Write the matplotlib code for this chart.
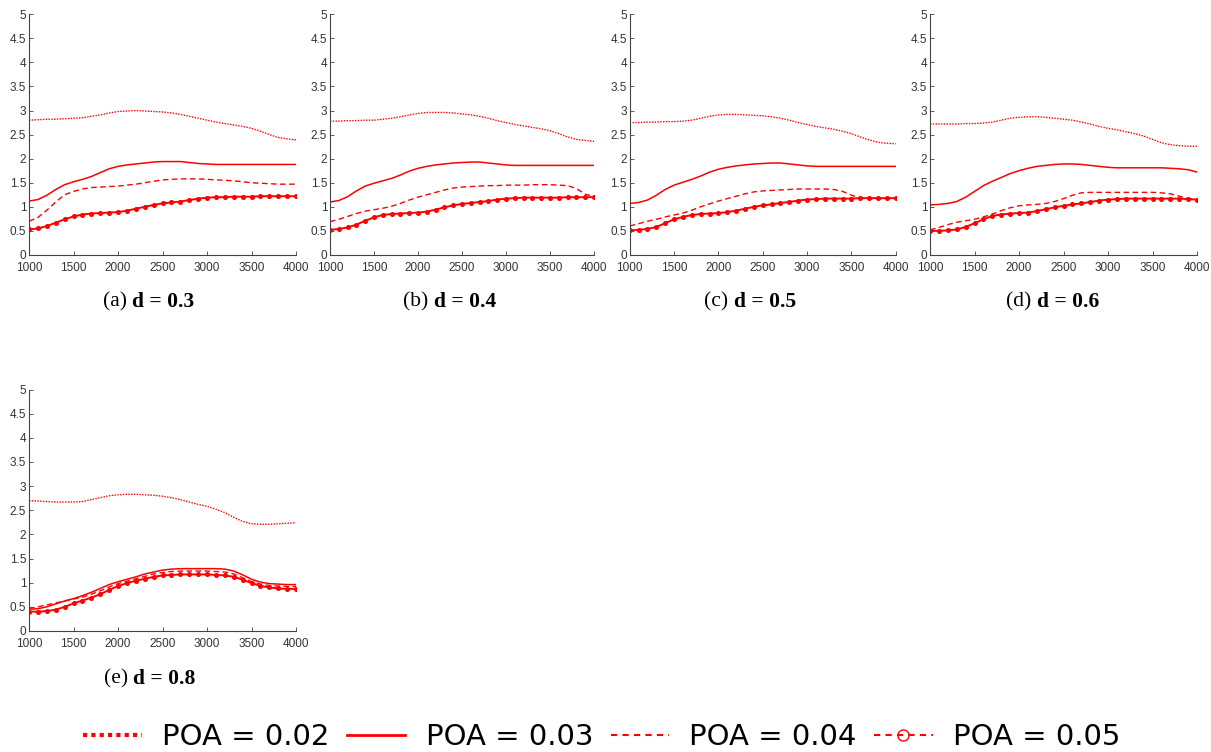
import matplotlib
matplotlib.use("Agg")
import matplotlib.pyplot as plt
from matplotlib.lines import Line2D

# x values (every 100 from 1000 to 4000)
xs = list(range(1000, 4001, 100))

# panel (a) d = 0.3
a_p02 = [2.80,2.81,2.82,2.82,2.83,2.84,2.85,2.88,2.91,2.95,2.98,2.99,3.00,2.99,2.98,2.97,2.95,2.92,2.88,2.84,2.80,2.76,2.73,2.70,2.67,2.63,2.57,2.50,2.44,2.41,2.39]
a_p03 = [1.12,1.15,1.24,1.36,1.46,1.52,1.57,1.63,1.71,1.79,1.84,1.87,1.89,1.91,1.93,1.94,1.94,1.94,1.92,1.90,1.89,1.88,1.88,1.88,1.88,1.88,1.88,1.88,1.88,1.88,1.88]
a_p04 = [0.70,0.78,0.93,1.10,1.25,1.32,1.37,1.40,1.41,1.42,1.43,1.45,1.47,1.50,1.53,1.56,1.57,1.58,1.58,1.58,1.57,1.56,1.55,1.54,1.52,1.50,1.49,1.48,1.47,1.47,1.47]
a_p05 = [0.53,0.55,0.60,0.67,0.74,0.80,0.84,0.86,0.87,0.88,0.89,0.92,0.96,1.00,1.04,1.07,1.09,1.11,1.14,1.17,1.19,1.20,1.20,1.21,1.21,1.21,1.22,1.22,1.22,1.22,1.22]

# panel (b) d = 0.4
b_p02 = [2.78,2.78,2.79,2.79,2.80,2.80,2.82,2.84,2.87,2.91,2.94,2.96,2.96,2.96,2.95,2.93,2.91,2.88,2.84,2.79,2.75,2.71,2.68,2.65,2.62,2.58,2.52,2.45,2.40,2.38,2.36]
b_p03 = [1.10,1.13,1.21,1.33,1.43,1.49,1.54,1.59,1.66,1.74,1.80,1.84,1.87,1.89,1.91,1.92,1.93,1.93,1.91,1.89,1.87,1.86,1.86,1.86,1.86,1.86,1.86,1.86,1.86,1.86,1.86]
b_p04 = [0.69,0.74,0.80,0.86,0.91,0.94,0.97,1.01,1.07,1.14,1.20,1.25,1.30,1.35,1.39,1.41,1.42,1.43,1.44,1.44,1.45,1.45,1.45,1.46,1.46,1.46,1.45,1.44,1.38,1.26,1.22]
b_p05 = [0.52,0.54,0.57,0.63,0.71,0.78,0.83,0.85,0.86,0.87,0.88,0.90,0.94,0.99,1.03,1.06,1.08,1.10,1.12,1.15,1.17,1.18,1.19,1.19,1.19,1.19,1.19,1.20,1.20,1.20,1.20]

# panel (c) d = 0.5
c_p02 = [2.75,2.75,2.76,2.76,2.77,2.77,2.78,2.80,2.84,2.88,2.91,2.92,2.92,2.91,2.90,2.89,2.87,2.84,2.80,2.75,2.71,2.67,2.64,2.61,2.57,2.52,2.45,2.39,2.34,2.32,2.31]
c_p03 = [1.07,1.09,1.14,1.24,1.36,1.45,1.51,1.57,1.64,1.72,1.78,1.82,1.85,1.87,1.89,1.90,1.91,1.91,1.89,1.87,1.85,1.84,1.84,1.84,1.84,1.84,1.84,1.84,1.84,1.84,1.84]
c_p04 = [0.60,0.65,0.70,0.74,0.79,0.83,0.87,0.93,1.00,1.06,1.12,1.17,1.22,1.27,1.31,1.33,1.34,1.35,1.36,1.37,1.37,1.37,1.37,1.36,1.32,1.24,1.18,1.17,1.17,1.17,1.18]
c_p05 = [0.51,0.52,0.54,0.58,0.66,0.74,0.79,0.83,0.85,0.86,0.87,0.89,0.92,0.96,1.00,1.03,1.05,1.08,1.10,1.13,1.15,1.16,1.17,1.17,1.17,1.17,1.18,1.18,1.18,1.18,1.18]

# panel (d) d = 0.6
d_p02 = [2.72,2.72,2.72,2.72,2.73,2.73,2.74,2.76,2.80,2.84,2.86,2.87,2.87,2.86,2.84,2.82,2.80,2.76,2.72,2.67,2.63,2.60,2.56,2.52,2.47,2.40,2.33,2.29,2.27,2.26,2.26]
d_p03 = [1.04,1.05,1.07,1.11,1.20,1.32,1.44,1.53,1.61,1.69,1.75,1.80,1.84,1.86,1.88,1.89,1.89,1.88,1.86,1.84,1.82,1.81,1.81,1.81,1.81,1.81,1.81,1.80,1.79,1.77,1.72]
d_p04 = [0.52,0.57,0.63,0.68,0.71,0.74,0.79,0.85,0.92,0.98,1.02,1.04,1.05,1.07,1.11,1.17,1.24,1.29,1.30,1.30,1.30,1.30,1.30,1.30,1.30,1.30,1.29,1.27,1.22,1.17,1.15]
d_p05 = [0.50,0.50,0.51,0.53,0.58,0.66,0.74,0.81,0.84,0.86,0.87,0.88,0.91,0.95,0.99,1.02,1.05,1.07,1.10,1.13,1.15,1.16,1.17,1.17,1.17,1.17,1.17,1.17,1.17,1.16,1.15]

# panel (e) d = 0.8
e_p02 = [2.70,2.69,2.68,2.67,2.67,2.67,2.68,2.72,2.76,2.80,2.82,2.83,2.83,2.82,2.81,2.79,2.76,2.72,2.67,2.62,2.58,2.52,2.45,2.35,2.27,2.22,2.21,2.21,2.22,2.23,2.24]
e_p03 = [0.45,0.46,0.50,0.56,0.62,0.67,0.73,0.80,0.88,0.96,1.02,1.07,1.12,1.18,1.22,1.26,1.28,1.29,1.29,1.29,1.29,1.29,1.28,1.24,1.16,1.07,1.01,0.98,0.97,0.96,0.96]
e_p04 = [0.47,0.50,0.54,0.58,0.62,0.66,0.70,0.76,0.83,0.91,0.98,1.03,1.08,1.13,1.18,1.21,1.23,1.24,1.24,1.24,1.24,1.23,1.22,1.18,1.10,1.02,0.97,0.94,0.93,0.92,0.92]
e_p05 = [0.40,0.40,0.41,0.44,0.50,0.57,0.63,0.69,0.76,0.85,0.93,0.99,1.04,1.08,1.12,1.15,1.16,1.17,1.17,1.17,1.17,1.16,1.15,1.12,1.06,0.99,0.93,0.90,0.88,0.87,0.87]

panels = [
    ("(a) ", "d = 0.3", a_p02, a_p03, a_p04, a_p05),
    ("(b) ", "d = 0.4", b_p02, b_p03, b_p04, b_p05),
    ("(c) ", "d = 0.5", c_p02, c_p03, c_p04, c_p05),
    ("(d) ", "d = 0.6", d_p02, d_p03, d_p04, d_p05),
    ("(e) ", "d = 0.8", e_p02, e_p03, e_p04, e_p05),
]
legend_labels = ["POA = 0.02", "POA = 0.03", "POA = 0.04", "POA = 0.05"]

# axes rectangles in figure fraction
rects = [
    [0.024, 0.661, 0.2205, 0.320],
    [0.2725, 0.661, 0.218, 0.320],
    [0.520, 0.661, 0.2197, 0.320],
    [0.768, 0.661, 0.2205, 0.320],
    [0.024, 0.161, 0.2205, 0.321],
]
caption_pos = [(0.109, 0.598), (0.358, 0.598), (0.606, 0.598), (0.856, 0.598), (0.110, 0.097)]

red = "#ff0000"
gray = "#444444"

fig = plt.figure(figsize=(12.11, 7.52), dpi=100)

for (tag, dtxt, p02, p03, p04, p05), rect, cp in zip(panels, rects, caption_pos):
    ax = fig.add_axes(rect)
    ax.plot(xs, p02, color=red, lw=1.0, ls=(0, (1, 1)))
    ax.plot(xs, p03, color=red, lw=1.1, ls="-")
    ax.plot(xs, p04, color=red, lw=1.0, ls=(0, (4, 2.5)))
    ax.plot(xs, p05, color=red, lw=1.4, ls="-", marker="o", ms=2.6,
            markerfacecolor=red, markeredgecolor=red)
    ax.set_xlim(1000, 4000)
    ax.set_ylim(0, 5)
    ax.set_xticks([1000, 1500, 2000, 2500, 3000, 3500, 4000])
    ax.set_yticks([0, 0.5, 1, 1.5, 2, 2.5, 3, 3.5, 4, 4.5, 5])
    ax.set_yticklabels(["0", "0.5", "1", "1.5", "2", "2.5", "3", "3.5", "4", "4.5", "5"])
    for s in ["top", "right"]:
        ax.spines[s].set_visible(False)
    for s in ["left", "bottom"]:
        ax.spines[s].set_color(gray)
        ax.spines[s].set_linewidth(0.8)
    ax.tick_params(direction="in", length=3, width=0.6, colors=gray,
                   labelsize=8.5, pad=2)
    ax.tick_params(axis="x", pad=5)
    for lab in ax.get_xticklabels() + ax.get_yticklabels():
        lab.set_fontfamily("Liberation Sans")
        lab.set_color("#333333")

    # caption: "(x) " regular + "d = ..." bold
    fig.text(cp[0], cp[1], tag, ha="right", va="center",
             fontsize=15.5, family="Liberation Serif")
    fig.text(cp[0], cp[1], dtxt, ha="left", va="center",
             fontsize=15.5, family="Liberation Serif", fontweight="bold")

handles = [
    Line2D([], [], color=red, lw=3, ls=(0, (1, 1))),
    Line2D([], [], color=red, lw=2),
    Line2D([], [], color=red, lw=1.5, ls=(0, (3, 2.5))),
    Line2D([], [], color=red, lw=1.5, ls=(0, (3, 2.5)), marker="o", ms=8,
           markerfacecolor="none", markeredgecolor=red),
]
fig.legend(handles, legend_labels, loc="center", bbox_to_anchor=(0.497, 0.02),
           ncol=4, frameon=False, fontsize=21, handlelength=2.0,
           columnspacing=0.6, handletextpad=0.7)

fig.savefig("out.png", dpi=100)
